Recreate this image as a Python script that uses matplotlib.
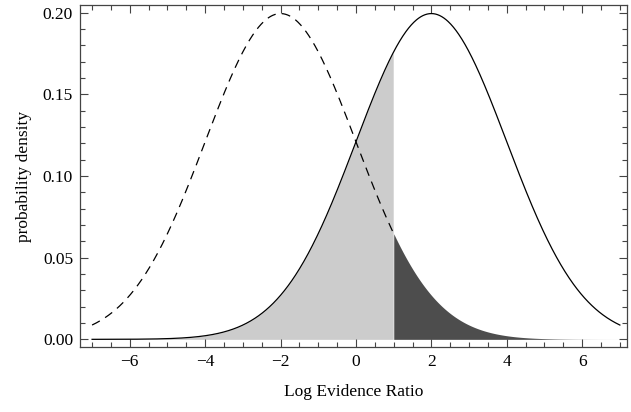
import matplotlib.pyplot as plt
import numpy as np
from matplotlib.ticker import MultipleLocator

plt.rcParams['font.family'] = ['Liberation Serif', 'DejaVu Serif']

# parameters
mean_solid = 2.0
mean_dashed = -2.0
sigma = 2.0
x_lo, x_hi = -7.0, 7.0
cutoff = 1.0

xticks = [-6, -4, -2, 0, 2, 4, 6]
yticks = [0.00, 0.05, 0.10, 0.15, 0.20]
xlabel = "Log Evidence Ratio"
ylabel = "probability density"

def pdf(x, mu, s):
	return np.exp(-(x - mu)**2 / (2.0*s**2)) / (s*np.sqrt(2*np.pi))

x = np.linspace(x_lo, x_hi, 1000)
y_solid = pdf(x, mean_solid, sigma)
y_dashed = pdf(x, mean_dashed, sigma)

fig = plt.figure(figsize=(6.31, 4.12), dpi=100)
ax = fig.add_axes([0.1268, 0.1585, 0.8669, 0.8285])

left = x <= cutoff
right = x >= cutoff
ax.fill_between(x[left], 0, y_solid[left], color="#cccccc", lw=0, zorder=1)
ax.fill_between(x[right], 0, y_dashed[right], color="#4d4d4d", lw=0, zorder=1)
#the dashed curve disappears into the dark area past the cutoff
ax.plot(x[left], y_dashed[left], color="black", lw=0.9, dashes=(7, 5), zorder=2)
ax.plot(x, y_solid, color="black", lw=0.9, zorder=3)

ax.set_xlim(-7.32, 7.19)
ax.set_ylim(-0.0045, 0.2045)
ax.set_xticks(xticks)
ax.set_xticklabels(["\u2212%d" % -t if t < 0 else "%d" % t for t in xticks])
ax.set_yticks(yticks)
ax.set_yticklabels(["%.2f" % t for t in yticks])
ax.xaxis.set_minor_locator(MultipleLocator(0.5))
ax.yaxis.set_minor_locator(MultipleLocator(0.01))
ax.tick_params(which="both", direction="in", top=True, right=True, labelsize=12.5, width=0.8, color="#444444")
ax.tick_params(which="major", length=6, pad=5)
ax.tick_params(which="minor", length=3.5)
for s in ax.spines.values():
	s.set_linewidth(0.9)
	s.set_color("#444444")

ax.set_xlabel(xlabel, fontsize=12.5, labelpad=10)
ax.set_ylabel(ylabel, fontsize=12.5, labelpad=8)

fig.savefig("out.png", dpi=100)
